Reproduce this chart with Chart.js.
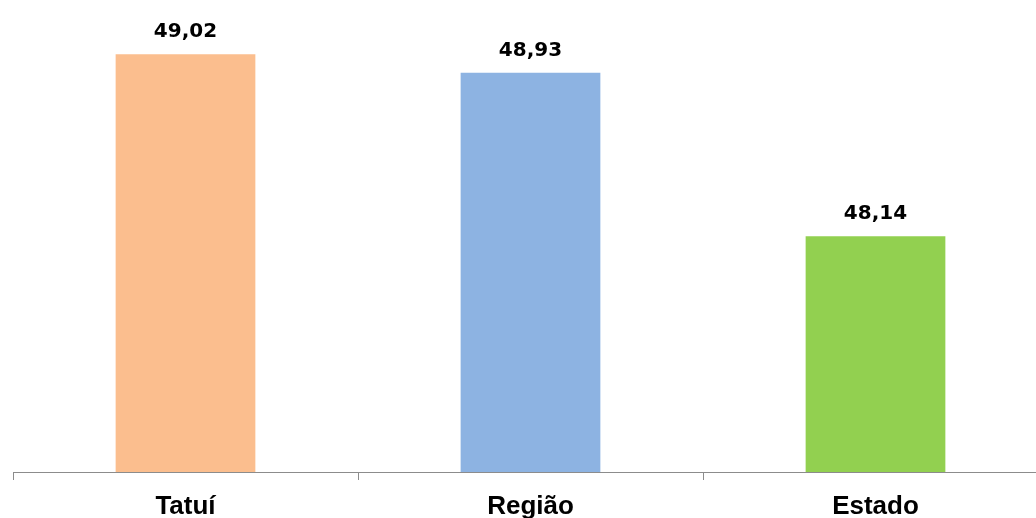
<!DOCTYPE html>
<html>
<head>
<meta charset="utf-8">
<script src="https://cdn.jsdelivr.net/npm/chart.js@4/dist/chart.umd.min.js"></script>
<style>
  html, body { margin: 0; padding: 0; background: #fff; overflow: hidden; }
  #wrap { width: 1050px; height: 518px; }
</style>
</head>
<body>
<div id="wrap"><canvas id="c" width="1050" height="518"></canvas></div>
<script>
const categories = ["Tatuí", "Região", "Estado"];
const values = [49.02, 48.93, 48.14];
const barColors = ["#FBBE8E", "#8DB3E2", "#92D050"];
const yMin = 47;
const yMax = 49.2;

const valueLabels = {
  id: 'valueLabels',
  afterDatasetsDraw(chart) {
    const ctx = chart.ctx;
    const meta = chart.getDatasetMeta(0);
    ctx.save();
    ctx.font = 'bold 20px "DejaVu Sans"';
    ctx.fillStyle = '#000';
    ctx.textAlign = 'center';
    ctx.textBaseline = 'alphabetic';
    meta.data.forEach((bar, i) => {
      const txt = values[i].toFixed(2).replace('.', ',');
      ctx.fillText(txt, bar.x, bar.y - 17);
    });
    ctx.restore();
  }
};

new Chart(document.getElementById('c'), {
  type: 'bar',
  data: {
    labels: categories,
    datasets: [{
      data: values,
      backgroundColor: barColors,
      borderWidth: 0,
      categoryPercentage: 1.0,
      barPercentage: 0.405
    }]
  },
  options: {
    responsive: false,
    animation: false,
    layout: { padding: { left: 13, right: 2, top: 17, bottom: 0 } },
    plugins: { legend: { display: false }, tooltip: { enabled: false } },
    scales: {
      x: {
        afterFit(scale) { scale.height = 46; },
        grid: {
          display: true,
          drawOnChartArea: false,
          drawTicks: true,
          tickLength: 8,
          color: '#8c8c8c',
          offset: true
        },
        border: { display: true, color: '#8c8c8c', width: 1 },
        ticks: {
          color: '#000',
          font: { family: '"Liberation Sans", Arial, sans-serif', size: 26, weight: 'bold', lineHeight: 1.0 },
          padding: 14
        }
      },
      y: {
        display: false,
        min: yMin,
        max: yMax
      }
    }
  },
  plugins: [valueLabels]
});
</script>
</body>
</html>
